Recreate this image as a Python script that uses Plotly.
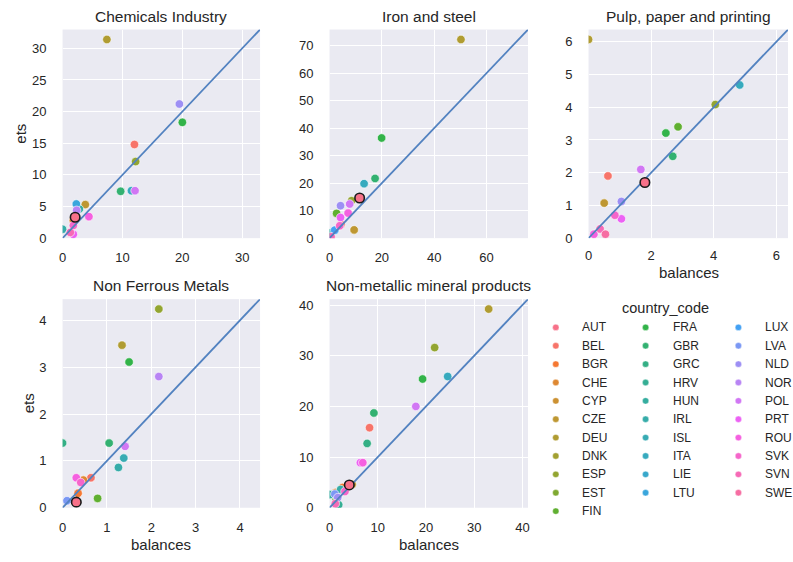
import math
import plotly.graph_objects as go

# ---------------- data ----------------
countries = ["AUT", "BEL", "BGR", "CHE", "CYP", "CZE", "DEU", "DNK", "ESP", "EST", "FIN",
             "FRA", "GBR", "GRC", "HRV", "HUN", "IRL", "ISL", "ITA", "LIE", "LTU",
             "LUX", "LVA", "NLD", "NOR", "POL", "PRT", "ROU", "SVK", "SVN", "SWE"]

chem_country = ["BEL", "CHE", "CZE", "DEU", "ESP", "FRA", "GBR", "HUN", "IRL", "ITA", "LTU",
                "NOR", "NLD", "POL", "PRT", "ROU", "SVK", "SVN"]
chem_balances = [12.0, 1.8, 3.8, 7.4, 12.2, 20.0, 9.7, 2.8, 0.0, 11.5, 2.3,
                 2.35, 19.5, 12.1, 1.8, 4.4, 1.8, 1.3]
chem_ets = [14.8, 2.8, 5.3, 31.4, 12.1, 18.3, 7.4, 4.6, 1.4, 7.5, 5.4,
            4.4, 21.2, 7.5, 0.6, 3.4, 2.0, 0.9]
chem_aut = [2.1, 3.3]

iron_country = ["BEL", "CZE", "DEU", "ESP", "FIN", "FRA", "GBR", "ITA", "HUN", "LUX",
                "NLD", "POL", "PRT", "ROU", "SVK", "SVN"]
iron_balances = [4.4, 9.4, 50.2, 8.4, 2.7, 19.9, 17.4, 13.2, 0.4, 2.0,
                 4.2, 7.7, 4.2, 7.1, 3.9, 0.6]
iron_ets = [5.0, 3.0, 72.2, 13.6, 9.0, 36.4, 21.7, 19.8, 1.9, 2.9,
            11.8, 12.4, 7.5, 9.1, 4.5, 0.5]
iron_aut = [11.5, 14.6]

pulp_country = ["BEL", "CZE", "DEU", "ESP", "FIN", "FRA", "GBR", "ITA", "NLD", "POL",
                "PRT", "ROU", "SVK", "SVN", "SWE"]
pulp_balances = [0.62, 0.50, 0.0, 4.05, 2.86, 2.47, 2.69, 4.83, 1.05, 1.67,
                 1.05, 0.17, 0.84, 0.37, 0.54]
pulp_ets = [1.90, 1.07, 6.07, 4.08, 3.40, 3.21, 2.50, 4.68, 1.12, 2.10,
            0.59, 0.12, 0.70, 0.28, 0.12]
pulp_aut = [1.80, 1.70]

nfm_country = ["BEL", "BGR", "CHE", "DEU", "ESP", "FRA", "FIN", "GBR", "GRC", "IRL",
               "ISL", "NOR", "POL", "ROU", "SVK", "LVA"]
nfm_balances = [0.64, 0.35, 0.47, 1.34, 2.17, 1.50, 0.79, 1.05, 0.0, 1.26,
                1.38, 2.17, 1.41, 0.31, 0.41, 0.10]
nfm_ets = [0.64, 0.31, 0.59, 3.47, 4.24, 3.11, 0.20, 1.38, 1.38, 0.86,
           1.06, 2.80, 1.31, 0.64, 0.54, 0.15]
nfm_aut = [0.31, 0.12]

nmm_country = ["BEL", "BGR", "CHE", "CZE", "DEU", "ESP", "FIN", "FRA", "GBR", "GRC",
               "HRV", "HUN", "IRL", "ITA", "LVA", "NLD", "POL", "PRT", "ROU", "SVK", "SVN"]
nmm_balances = [8.3, 2.7, 1.3, 4.7, 33.0, 21.8, 1.4, 19.3, 9.2, 7.8,
                1.9, 0.1, 2.3, 24.5, 1.1, 1.7, 17.9, 6.4, 6.9, 3.2, 1.2]
nmm_ets = [15.8, 4.0, 3.0, 4.6, 39.2, 31.6, 1.7, 25.4, 18.7, 12.7,
           0.6, 2.6, 3.6, 25.9, 2.7, 2.0, 20.0, 8.9, 8.9, 3.2, 0.8]
nmm_aut = [4.1, 4.5]

titles = ["Chemicals Industry", "Iron and steel", "Pulp, paper and printing",
          "Non Ferrous Metals", "Non-metallic mineral products"]
x_dticks = [10, 20, 2, 1, 10]
y_dticks = [5, 10, 1, 1, 10]


# ---------------- husl palette (seaborn default for many hues) ----------------
_m = [[3.2406, -1.5372, -0.4986], [-0.9689, 1.8758, 0.0415], [0.0557, -0.2040, 1.0570]]
_refU, _refV = 0.19784, 0.46834


def _max_chroma(L, H):
    hrad = math.radians(H)
    sinH, cosH = math.sin(hrad), math.cos(hrad)
    sub1 = (L + 16) ** 3 / 1560896.0
    sub2 = sub1 if sub1 > 0.008856 else L / 903.3
    result = float("inf")
    for m1, m2, m3 in _m:
        top = (0.99915 * m1 + 1.05122 * m2 + 1.14460 * m3) * sub2
        rbottom = 0.86330 * m3 - 0.17266 * m2
        lbottom = 0.12949 * m3 - 0.38848 * m1
        bottom = (rbottom * sinH + lbottom * cosH) * sub2
        for t in (0.0, 1.0):
            C = L * (top - 1.05122 * t) / (bottom + 0.17266 * sinH * t)
            if 0.0 < C < result:
                result = C
    return result


def _husl_to_rgb(H, S, L):
    C = _max_chroma(L, H) / 100.0 * S
    hr = math.radians(H)
    U, V = math.cos(hr) * C, math.sin(hr) * C
    t = (L + 16.0) / 116.0
    varY = t ** 3 if t ** 3 > 0.008856 else (116.0 * t - 16.0) / 903.3
    varU = U / (13.0 * L) + _refU
    varV = V / (13.0 * L) + _refV
    Y = varY
    X = -(9.0 * Y * varU) / ((varU - 4.0) * varV - varU * varV)
    Z = (9.0 * Y - 15.0 * varV * Y - varV * X) / (3.0 * varV)
    out = []
    for row in _m:
        c = row[0] * X + row[1] * Y + row[2] * Z
        c = 12.92 * c if c <= 0.0031308 else 1.055 * c ** (1 / 2.4) - 0.055
        out.append(min(max(c, 0.0), 1.0))
    return "rgb(%d,%d,%d)" % tuple(round(v * 255) for v in out)


def husl_palette(n, h=0.01, s=0.9, l=0.65):
    cols = []
    for i in range(n):
        hue = ((i / n) + h) % 1 * 359
        cols.append(_husl_to_rgb(hue, s * 99, l * 99))
    return cols


palette = husl_palette(len(countries))
color_of = dict(zip(countries, palette))

# ---------------- figure ----------------
W, H = 793, 562
FONT = "Liberation Sans, Arial, sans-serif"
TXT = "#262626"
BG = "#EAEAF2"
LINE = "#5282C0"

# subplot pixel boxes (left, right, top, bottom)
boxes = [(59, 258, 29, 241), (328, 528, 29, 241), (589, 790, 29, 241),
         (59, 258, 303, 515), (328, 528, 303, 515)]

sectors = [
    (chem_country, chem_balances, chem_ets, chem_aut),
    (iron_country, iron_balances, iron_ets, iron_aut),
    (pulp_country, pulp_balances, pulp_ets, pulp_aut),
    (nfm_country, nfm_balances, nfm_ets, nfm_aut),
    (nmm_country, nmm_balances, nmm_ets, nmm_aut),
]

fig = go.Figure()
layout = dict(width=W, height=H, margin=dict(l=0, r=0, t=0, b=0),
              paper_bgcolor="white", plot_bgcolor=BG, showlegend=False,
              font=dict(family=FONT, color=TXT, size=13))
annotations = []
shapes = []

for k, (cc, bal, ets, aut) in enumerate(sectors):
    idx = "" if k == 0 else str(k + 1)
    xa, ya = "x" + idx, "y" + idx
    l, r, t, b = boxes[k]
    lim = 1.05 * max(max(bal), max(ets), aut[0], aut[1])
    common = dict(range=[0, lim], showgrid=True, gridcolor="white", gridwidth=1.3,
                  zeroline=False, showline=False, ticks="",
                  tickfont=dict(family=FONT, size=13, color=TXT), tick0=0)
    layout["xaxis" + idx] = dict(domain=[l / W, r / W], anchor=ya, dtick=x_dticks[k],
                                 ticklabelstandoff=8 if k == 2 else 10, **common)
    layout["yaxis" + idx] = dict(domain=[1 - b / H, 1 - t / H], anchor=xa, dtick=y_dticks[k],
                                 ticklabelstandoff=15, **common)

    fig.add_trace(go.Scatter(
        x=bal, y=ets, mode="markers", xaxis=xa, yaxis=ya,
        marker=dict(size=8.5, color=[color_of[c] for c in cc],
                    line=dict(color="white", width=0.6)),
        hovertext=cc))
    fig.add_trace(go.Scatter(
        x=[0, lim], y=[0, lim], mode="lines", xaxis=xa, yaxis=ya,
        line=dict(color=LINE, width=1.8)))
    fig.add_trace(go.Scatter(
        x=[aut[0]], y=[aut[1]], mode="markers", xaxis=xa, yaxis=ya,
        marker=dict(size=9.5, color=color_of["AUT"], line=dict(color="#1a1a1a", width=1.6)),
        hovertext=["AUT"]))

    annotations.append(dict(text=titles[k], xref=xa + " domain", yref=ya + " domain",
                            x=0.5, y=1, xanchor="center", yanchor="bottom", yshift=3,
                            showarrow=False, font=dict(family=FONT, size=15.5, color=TXT)))

# axis labels
for (x, y, txt, ang) in [(17, 135, "ets", -90), (25, 409, "ets", -90),
                         (158, 552, "balances", 0), (428, 552, "balances", 0),
                         (690, 276, "balances", 0)]:
    annotations.append(dict(text=txt, xref="paper", yref="paper", x=x / W, y=1 - y / H,
                            xanchor="center", yanchor="middle", textangle=ang,
                            showarrow=False, font=dict(family=FONT, size=15, color=TXT)))

# legend (drawn manually, positions in pixels converted to paper)
col_marker_x = [556, 646.5, 740]
col_text_x = [580, 672, 765]
row0, drow = 331.7, 18.67
for i, c in enumerate(countries):
    col = 0 if i < 11 else (1 if i < 21 else 2)
    row = i if i < 11 else (i - 11 if i < 21 else i - 21)
    py = row0 + row * drow
    shapes.append(dict(type="circle", xref="paper", yref="paper",
                       xsizemode="pixel", ysizemode="pixel",
                       xanchor=col_marker_x[col] / W, yanchor=1 - py / H,
                       x0=-3.2, x1=3.2, y0=-3.2, y1=3.2,
                       fillcolor=color_of[c], line=dict(color="white", width=0.4)))
    annotations.append(dict(text=c, xref="paper", yref="paper", x=col_text_x[col] / W,
                            y=1 - py / H, xanchor="left", yanchor="middle", showarrow=False,
                            font=dict(family=FONT, size=12, color=TXT)))
annotations.append(dict(text="country_code", xref="paper", yref="paper", x=667 / W,
                        y=1 - 312 / H, xanchor="center", yanchor="middle", showarrow=False,
                        font=dict(family=FONT, size=14.5, color=TXT)))

layout["annotations"] = annotations
layout["shapes"] = shapes
fig.update_layout(**layout)
fig.write_html("out.html")
